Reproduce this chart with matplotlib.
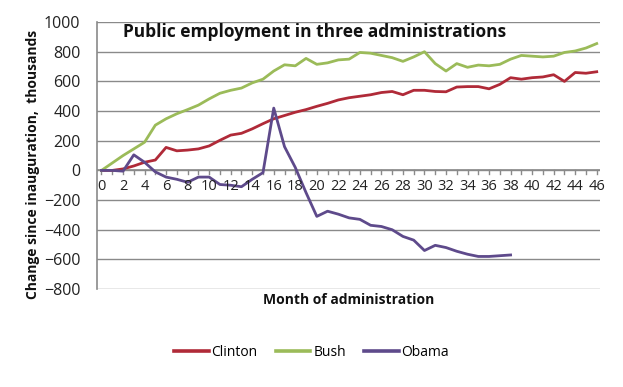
import matplotlib
matplotlib.use("Agg")
import matplotlib.pyplot as plt
import numpy as np

plt.rcParams['font.family'] = ['Open Sans', 'DejaVu Sans']

title = "Public employment in three administrations"
xlabel = "Month of administration"
ylabel = "Change since inauguration,  thousands"
series_names = ["Clinton", "Bush", "Obama"]
colors = ["#b02a38", "#9bbb59", "#5e4a8b"]

clinton = [0, 0, 10, 30, 55, 70, 155, 132, 137, 145, 165, 203, 238, 250, 280, 315,
           348, 370, 392, 410, 432, 452, 475, 490, 500, 510, 525, 532, 510, 540,
           540, 532, 530, 562, 565, 565, 550, 580, 625, 615, 625, 630, 645, 600,
           660, 655, 665]
bush = [0, 50, 100, 145, 190, 305, 348, 382, 410, 440, 482, 520, 540, 555, 590,
        615, 670, 712, 705, 755, 715, 725, 745, 750, 795, 790, 775, 760, 735, 765,
        800, 720, 670, 720, 695, 710, 705, 715, 750, 775, 770, 765, 770, 795, 805,
        825, 855]
obama = [0, 0, -5, 105, 55, -10, -45, -60, -80, -45, -45, -95, -100, -110, -60,
         -15, 420, 160, 20, -150, -310, -275, -295, -320, -330, -370, -378, -400,
         -445, -470, -540, -505, -520, -545, -565, -580, -580, -575, -570]

fig = plt.figure(figsize=(6.23, 3.87), dpi=100)
ax = fig.add_axes([0.156, 0.253, 0.807, 0.69])

for name, vals, c in zip(series_names, [clinton, bush, obama], colors):
    ax.plot(np.arange(len(vals)), vals, color=c, lw=2.0, label=name,
            solid_joinstyle='round', zorder=3)

ax.set_ylim(-800, 1000)
ax.set_xlim(-0.4, 46.3)
ax.set_yticks(np.arange(-800, 1001, 200))
ax.yaxis.grid(True, color="#8a8a8a", lw=1.0)
ax.set_axisbelow(True)
ax.tick_params(axis='y', length=0, labelsize=11.5, pad=12, labelcolor="#222222")

for s in ['top', 'right', 'bottom']:
    ax.spines[s].set_visible(False)
ax.spines['left'].set_color("#8a8a8a")
ax.spines['left'].set_linewidth(1.2)

# x axis at zero
ax.axhline(0, color="#8a8a8a", lw=1.2, zorder=1)
ax.set_xticks([])
months = np.arange(0, 47)
for m in months:
    ax.plot([m, m], [0, -25], color="#8a8a8a", lw=1.0, zorder=1)
for m in months[::2]:
    ax.text(m, -55, str(m), ha='center', va='top', fontsize=10.5, color="#222222")

ax.text(2.0, 935, title, ha='left', va='center', fontsize=12.5,
        fontweight='bold', color="#111111")
fig.text(0.053, 0.576, ylabel, rotation=90, ha='center', va='center',
         fontsize=10, fontweight='bold', color="#111111")
fig.text(0.56, 0.225, xlabel, ha='center', va='center', fontsize=10,
         fontweight='bold', color="#111111")

leg = fig.legend(loc='center', bbox_to_anchor=(0.5, 0.09), ncol=3, frameon=False,
                 fontsize=10, handlelength=2.5, handletextpad=0.2, columnspacing=1.3)
for h in leg.get_lines():
    h.set_linewidth(2.6)

fig.savefig("out.png", dpi=100)
